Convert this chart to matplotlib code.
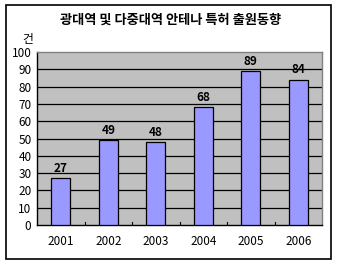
import matplotlib
matplotlib.use("Agg")
import matplotlib.pyplot as plt
from matplotlib.patches import Rectangle

plt.rcParams['font.family'] = ['Noto Sans CJK KR', 'DejaVu Sans']

years = ['2001', '2002', '2003', '2004', '2005', '2006']
counts = [27, 49, 48, 68, 89, 84]
yticks = [0, 10, 20, 30, 40, 50, 60, 70, 80, 90, 100]
title = '광대역 및 다중대역 안테나 특허 출원동향'
unit = '건'

W, H = 341, 268
fig = plt.figure(figsize=(W/100, H/100), dpi=100)
fig.patch.set_facecolor('white')

# outer frame
fig.patches.append(Rectangle((6/W, 1-259/H), (331-6)/W, (259-5)/H,
                             transform=fig.transFigure, fill=False,
                             edgecolor='black', linewidth=1.2))

ax = fig.add_axes([37/W, 1-225/H, (322-37)/W, (225-52)/H])
ax.set_facecolor('#C0C0C0')
x = list(range(len(years)))
ax.bar(x, counts, width=0.4, color='#9999FF', edgecolor='black', linewidth=0.9, zorder=3)
ax.set_xlim(-0.5, len(years)-0.5)
ax.set_ylim(0, 100)
ax.set_yticks(yticks)
ax.set_yticklabels([str(v) for v in yticks], fontsize=8.5)
ax.set_xticks(x)
ax.set_xticklabels(years, fontsize=8.5)
ax.tick_params(axis='x', length=0, pad=7)
ax.tick_params(axis='y', length=0, pad=4)
for v in yticks[1:-1]:
    ax.axhline(v, color='black', linewidth=0.9, zorder=1)
for i in range(1, len(years)):
    ax.plot([i-0.5, i-0.5], [0, 1.5], color='black', linewidth=0.8, zorder=2)
for s in ax.spines.values():
    s.set_color('#808080')
    s.set_linewidth(1)
ax.spines['bottom'].set_color('black')
ax.spines['left'].set_color('black')

for xi, v in zip(x, counts):
    ax.text(xi, v + 2, str(v), ha='center', va='bottom', fontsize=8.5, fontweight='bold')

fig.text(0.5, 1-20/H, title, ha='center', va='center', fontsize=9.5, fontweight='bold')
fig.text(28/W, 1-40/H, unit, ha='center', va='center', fontsize=8.5)

fig.savefig('out.png', dpi=100)
